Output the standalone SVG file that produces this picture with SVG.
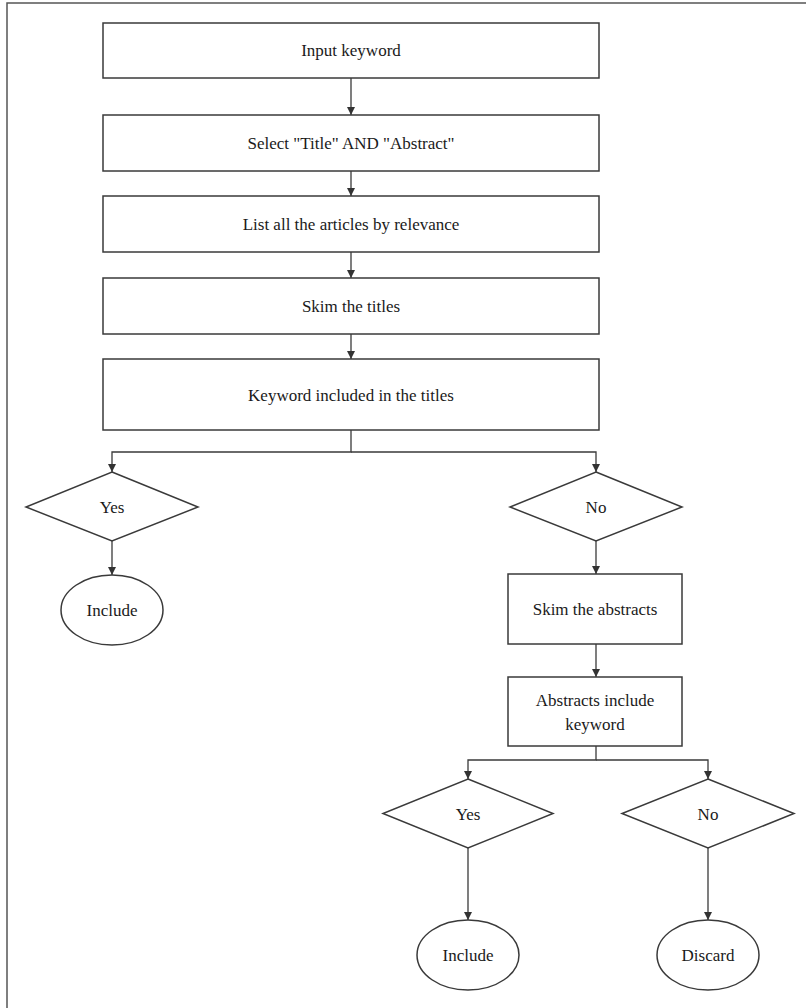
<svg xmlns="http://www.w3.org/2000/svg" width="806" height="1008" viewBox="0 0 806 1008">
<defs>
<style>
.n{fill:#fff;stroke:#3a3a3a;stroke-width:1.5}
.t{font-family:"Liberation Serif","Times New Roman",serif;font-size:17px;fill:#1a1a1a;text-anchor:middle;dominant-baseline:central}
.c{fill:none;stroke:#3a3a3a;stroke-width:1.3}
</style>
<marker id="ah" viewBox="0 0 10 10" refX="10" refY="5" markerWidth="8" markerHeight="8" markerUnits="userSpaceOnUse" orient="auto">
<path d="M0,0 L10,5 L0,10 z" fill="#333"/>
</marker>
</defs>
<rect x="0" y="0" width="806" height="1008" fill="#fff"/>
<path d="M7,1010 V3 H808" fill="none" stroke="#555" stroke-width="1.5"/>
<g id="connectors">
<path class="c" d="M351,78 V115" marker-end="url(#ah)"/>
<path class="c" d="M351,171 V196" marker-end="url(#ah)"/>
<path class="c" d="M351,252 V278" marker-end="url(#ah)"/>
<path class="c" d="M351,334 V359" marker-end="url(#ah)"/>
<path class="c" d="M351,430 V452 H112 V472" marker-end="url(#ah)"/>
<path class="c" d="M351,452 H596 V472" marker-end="url(#ah)"/>
<path class="c" d="M112,541 V575" marker-end="url(#ah)"/>
<path class="c" d="M596,541 V574" marker-end="url(#ah)"/>
<path class="c" d="M596,644 V677" marker-end="url(#ah)"/>
<path class="c" d="M596,746 V760 H468 V779" marker-end="url(#ah)"/>
<path class="c" d="M596,760 H708 V779" marker-end="url(#ah)"/>
<path class="c" d="M468,848 V920" marker-end="url(#ah)"/>
<path class="c" d="M708,848 V920" marker-end="url(#ah)"/>
</g>
<g id="input"><rect class="n" x="103" y="23" width="496" height="55"/><text class="t" x="351" y="50.5">Input keyword</text></g>
<g id="select"><rect class="n" x="103" y="115" width="496" height="56"/><text class="t" x="351" y="143">Select "Title" AND "Abstract"</text></g>
<g id="list"><rect class="n" x="103" y="196" width="496" height="56"/><text class="t" x="351" y="224">List all the articles by relevance</text></g>
<g id="skimtitles"><rect class="n" x="103" y="278" width="496" height="56"/><text class="t" x="351" y="306">Skim the titles</text></g>
<g id="keywordtitles"><rect class="n" x="103" y="359" width="496" height="71"/><text class="t" x="351" y="395">Keyword included in the titles</text></g>
<g id="yes1"><polygon class="n" points="112,472 198,507 112,541 26,507"/><text class="t" x="112" y="507">Yes</text></g>
<g id="include1"><ellipse class="n" cx="112" cy="610" rx="51" ry="35"/><text class="t" x="112" y="610">Include</text></g>
<g id="no1"><polygon class="n" points="596,472 682,507 596,541 510,507"/><text class="t" x="596" y="507">No</text></g>
<g id="skimabstracts"><rect class="n" x="508" y="574" width="174" height="70"/><text class="t" x="595" y="609">Skim the abstracts</text></g>
<g id="abstractsinclude"><rect class="n" x="508" y="677" width="174" height="69"/><text class="t" x="595" y="700">Abstracts include</text><text class="t" x="595" y="724">keyword</text></g>
<g id="yes2"><polygon class="n" points="468,779 553,813.5 468,848 383,813.5"/><text class="t" x="468" y="814">Yes</text></g>
<g id="no2"><polygon class="n" points="708,779 794,813.5 708,848 622,813.5"/><text class="t" x="708" y="814">No</text></g>
<g id="include2"><ellipse class="n" cx="468" cy="955" rx="51" ry="35"/><text class="t" x="468" y="955">Include</text></g>
<g id="discard"><ellipse class="n" cx="708" cy="955" rx="51" ry="35"/><text class="t" x="708" y="955">Discard</text></g>
</svg>
